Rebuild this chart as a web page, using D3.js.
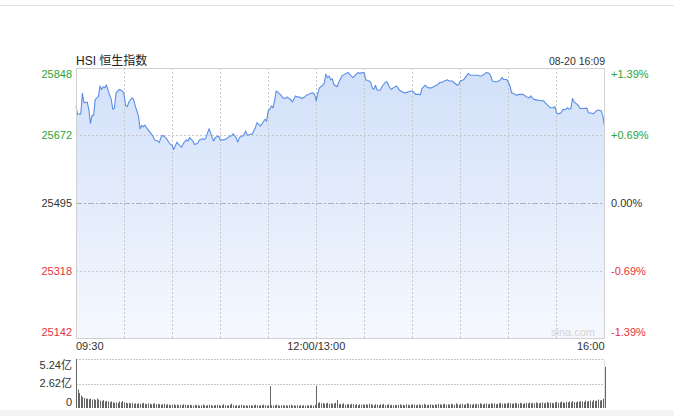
<!DOCTYPE html>
<html>
<head>
<meta charset="utf-8">
<script src="https://cdn.jsdelivr.net/npm/d3@7"></script>
<style>
  body { margin: 0; background: #fff; }
  text { font-family: "Liberation Sans", Arial, "Noto Sans CJK SC", sans-serif; }
</style>
</head>
<body>
<div id="chart"></div>
<script>
// HSI intraday, 08-20 — minutes from 09:30 (lunch break removed)
const title = "HSI 恒生指数";
const stamp = "08-20 16:09";
const prevClose = 25495;
const priceTicks = [25142, 25318, 25495, 25672, 25848];
const pctLabels = ["-1.39%", "-0.69%", "0.00%", "+0.69%", "+1.39%"];
const timeLabels = ["09:30", "12:00/13:00", "16:00"];
const timeLabelMinutes = [0, 150, 330];
const volTicks = [0, 2.62, 5.24];
const volLabels = ["0", "2.62亿", "5.24亿"];

const priceMinutes = [
  0, 1, 3, 4, 5, 7, 8, 9, 10, 11,
  12, 14, 15, 16, 17, 18, 19, 20, 22, 23,
  24, 25, 27, 29, 30, 31, 32, 33, 35, 36,
  37, 39, 40, 41, 42, 43, 44, 46, 48, 49,
  51, 52, 53, 54, 56, 58, 59, 60, 61, 62,
  63, 65, 66, 67, 69, 70, 71, 73, 74, 76,
  77, 79, 80, 81, 83, 84, 85, 86, 87, 89,
  90, 92, 94, 96, 97, 98, 100, 101, 102, 104,
  105, 106, 107, 109, 110, 112, 113, 114, 115, 116,
  118, 119, 120, 121, 122, 123, 124, 125, 126, 128,
  129, 131, 132, 133, 134, 135, 136, 137, 138, 139,
  141, 143, 144, 146, 147, 148, 149, 150, 151, 152,
  154, 155, 156, 157, 158, 159, 160, 161, 163, 164,
  166, 168, 170, 172, 173, 175, 176, 177, 179, 180,
  181, 183, 184, 185, 186, 187, 188, 190, 191, 193,
  194, 195, 196, 197, 198, 200, 201, 202, 204, 205,
  207, 209, 210, 211, 212, 214, 215, 216, 218, 219,
  220, 222, 224, 226, 227, 229, 230, 232, 233, 235,
  236, 238, 239, 240, 242, 243, 245, 246, 248, 251,
  252, 253, 255, 256, 258, 259, 260, 262, 263, 265,
  266, 267, 269, 270, 271, 272, 273, 274, 275, 277,
  279, 280, 281, 283, 284, 285, 286, 288, 290, 292,
  293, 295, 296, 298, 299, 300, 301, 303, 304, 305,
  307, 308, 309, 310, 311, 313, 314, 315, 317, 319,
  320, 322, 323, 325, 326, 328, 329, 330
];
const prices = [
  25749, 25727, 25728, 25782, 25757, 25759, 25740, 25703, 25724, 25724,
  25766, 25773, 25801, 25792, 25799, 25796, 25804, 25790, 25766, 25740,
  25744, 25783, 25792, 25788, 25779, 25750, 25747, 25759, 25770, 25766,
  25749, 25722, 25689, 25698, 25694, 25699, 25692, 25681, 25670, 25660,
  25657, 25653, 25666, 25672, 25666, 25654, 25648, 25646, 25635, 25644,
  25654, 25644, 25641, 25651, 25660, 25657, 25666, 25657, 25648, 25651,
  25660, 25663, 25661, 25664, 25689, 25679, 25666, 25657, 25666, 25670,
  25660, 25660, 25663, 25670, 25670, 25676, 25666, 25654, 25666, 25670,
  25675, 25683, 25672, 25675, 25675, 25692, 25705, 25701, 25696, 25701,
  25714, 25709, 25736, 25740, 25749, 25744, 25762, 25788, 25785, 25777,
  25770, 25769, 25772, 25768, 25766, 25759, 25766, 25775, 25772, 25773,
  25768, 25773, 25777, 25781, 25782, 25783, 25779, 25762, 25783, 25796,
  25803, 25808, 25832, 25823, 25827, 25817, 25820, 25805, 25799, 25810,
  25827, 25832, 25836, 25827, 25823, 25832, 25836, 25834, 25836, 25834,
  25817, 25814, 25811, 25796, 25792, 25803, 25790, 25790, 25799, 25810,
  25812, 25805, 25796, 25792, 25796, 25801, 25796, 25790, 25785, 25783,
  25785, 25788, 25788, 25785, 25779, 25779, 25778, 25794, 25803, 25799,
  25796, 25796, 25801, 25805, 25810, 25811, 25814, 25817, 25814, 25814,
  25810, 25803, 25805, 25814, 25817, 25823, 25834, 25829, 25829, 25829,
  25827, 25827, 25832, 25836, 25834, 25827, 25814, 25812, 25812, 25817,
  25823, 25818, 25818, 25810, 25801, 25783, 25782, 25779, 25777, 25779,
  25779, 25777, 25773, 25770, 25775, 25770, 25766, 25764, 25763, 25762,
  25757, 25749, 25744, 25744, 25747, 25731, 25728, 25731, 25740, 25738,
  25744, 25740, 25742, 25768, 25759, 25753, 25747, 25742, 25742, 25743,
  25731, 25730, 25728, 25736, 25738, 25736, 25722, 25696
];

// volume per minute, in 亿
const volumes = [
  5.24, 1.96, 1.6, 1.32, 1.18, 1.07, 1.0, 1.0, 0.95, 1.0,
  0.9, 0.95, 0.85, 1.0, 0.9, 0.8, 0.75, 0.85, 0.7, 0.75,
  0.7, 0.65, 0.7, 0.6, 0.55, 0.6, 0.55, 0.7, 0.6, 0.75,
  0.6, 0.55, 0.5, 0.55, 0.5, 0.55, 0.45, 0.5, 0.45, 0.5,
  0.45, 0.5, 0.55, 0.45, 0.4, 0.5, 0.45, 0.4, 0.45, 0.5,
  0.4, 0.45, 0.4, 0.35, 0.4, 0.45, 0.35, 0.4, 0.35, 0.3,
  0.35, 0.4, 0.3, 0.35, 0.3, 0.35, 0.3, 0.4, 0.35, 0.3,
  0.3, 0.35, 0.3, 0.25, 0.35, 0.3, 0.3, 0.25, 0.3, 0.35,
  0.3, 0.25, 0.3, 0.35, 0.3, 0.25, 0.3, 0.3, 0.35, 0.3,
  0.25, 0.3, 0.4, 0.3, 0.25, 0.3, 0.35, 0.45, 0.3, 0.25,
  0.3, 0.25, 0.3, 0.35, 0.3, 0.25, 0.3, 0.25, 0.3, 0.3,
  0.25, 0.3, 0.35, 0.3, 0.25, 0.3, 0.3, 0.35, 0.3, 0.25,
  0.3, 2.35, 0.3, 0.25, 0.3, 0.35, 0.3, 0.25, 0.3, 0.3,
  0.25, 0.3, 0.25, 0.3, 0.35, 0.25, 0.3, 0.25, 0.3, 0.25,
  0.3, 0.25, 0.3, 0.25, 0.3, 0.25, 0.3, 0.3, 0.25, 0.35,
  2.38, 0.55, 0.6, 0.5, 0.55, 0.45, 0.5, 0.55, 0.45, 0.5,
  0.45, 0.5, 0.55, 0.85, 0.4, 0.45, 0.4, 0.5, 0.35, 0.4,
  0.4, 0.35, 0.45, 0.4, 0.35, 0.4, 0.3, 0.4, 0.35, 0.4,
  0.35, 0.4, 0.35, 0.45, 0.4, 0.35, 0.3, 0.4, 0.35, 0.3,
  0.4, 0.35, 0.45, 0.3, 0.35, 0.4, 0.3, 0.35, 0.3, 0.35,
  0.3, 0.35, 0.4, 0.3, 0.35, 0.3, 0.4, 0.35, 0.3, 0.35,
  0.4, 0.35, 0.3, 0.35, 0.4, 0.3, 0.35, 0.45, 0.35, 0.3,
  0.35, 0.4, 0.35, 0.3, 0.4, 0.35, 0.45, 0.4, 0.35, 0.4,
  0.45, 0.35, 0.4, 0.35, 0.45, 0.4, 0.35, 0.5, 0.4, 0.35,
  0.4, 0.45, 0.35, 0.4, 0.5, 0.45, 0.4, 0.35, 0.45, 0.4,
  0.45, 0.4, 0.5, 0.45, 0.4, 0.45, 0.5, 0.4, 0.45, 0.5,
  0.45, 0.5, 0.4, 0.45, 0.5, 0.55, 0.45, 0.5, 0.45, 0.5,
  0.55, 0.5, 0.45, 0.5, 0.55, 0.5, 0.45, 0.55, 0.5, 0.45,
  0.5, 0.55, 0.5, 0.6, 0.5, 0.55, 0.5, 0.6, 0.55, 0.5,
  0.55, 0.6, 0.5, 0.55, 0.65, 0.55, 0.6, 0.55, 0.5, 0.6,
  0.65, 0.55, 0.6, 0.7, 0.6, 0.55, 0.65, 0.6, 0.7, 0.6,
  0.75, 0.65, 0.6, 0.7, 0.65, 0.75, 0.7, 0.65, 0.8, 0.7,
  0.75, 0.8, 0.7, 0.85, 0.75, 0.8, 0.9, 0.8, 0.85, 1.0,
  4.4
];

var W = 674, H = 416;
var pLeft = 76, pRight = 605, pTop = 68, pBottom = 338;
var vTop = 359, vBottom = 408;

var svg = d3.select('#chart').append('svg').attr('width', W).attr('height', H);

// page chrome
svg.append('line').attr('x1', 0).attr('x2', W).attr('y1', 5.5).attr('y2', 5.5)
  .attr('stroke', '#e2e2e2');
svg.append('rect').attr('x', 0).attr('y', 410).attr('width', W).attr('height', 6)
  .attr('fill', '#f4f4f4');

var x = d3.scaleLinear().domain([0, 330]).range([pLeft, pRight - 0.5]);
var y = d3.scaleLinear().domain([priceTicks[0], priceTicks[4]]).range([pBottom, pTop]);
var yv = d3.scaleLinear().domain([0, volTicks[2]]).range([vBottom, vTop]);

var data = priceMinutes.map(function (m, i) { return { m: m, p: prices[i] }; });

// gradient fill
var grad = svg.append('defs').append('linearGradient').attr('id', 'fill')
  .attr('gradientUnits', 'userSpaceOnUse')
  .attr('x1', 0).attr('x2', 0).attr('y1', pTop).attr('y2', pBottom);
grad.append('stop').attr('offset', '0%').attr('stop-color', '#d1e0f9');
grad.append('stop').attr('offset', '100%').attr('stop-color', '#f5f8fe');

svg.append('path').datum(data)
  .attr('fill', 'url(#fill)')
  .attr('d', d3.area().x(d => x(d.m)).y0(pBottom).y1(d => y(d.p)));

// grid
var vMinutes = d3.range(30, 330, 30);
svg.append('g').selectAll('line').data(vMinutes).join('line')
  .attr('x1', d => Math.round(x(d)) + 0.5).attr('x2', d => Math.round(x(d)) + 0.5)
  .attr('y1', pTop).attr('y2', pBottom)
  .attr('stroke', '#c8c8c8').attr('stroke-dasharray', '2,2');
svg.append('g').selectAll('line').data([priceTicks[1], priceTicks[3]]).join('line')
  .attr('x1', pLeft).attr('x2', pRight)
  .attr('y1', d => Math.round(y(d)) + 0.5).attr('y2', d => Math.round(y(d)) + 0.5)
  .attr('stroke', '#c8c8c8').attr('stroke-dasharray', '2,2');
svg.append('line')
  .attr('x1', pLeft).attr('x2', pRight)
  .attr('y1', Math.round(y(prevClose)) + 0.5).attr('y2', Math.round(y(prevClose)) + 0.5)
  .attr('stroke', '#aab0b8').attr('stroke-dasharray', '6,2,2,2');

// price line
svg.append('path').datum(data)
  .attr('fill', 'none').attr('stroke', '#5a8ee6').attr('stroke-width', 1.1)
  .attr('stroke-linejoin', 'round')
  .attr('d', d3.line().x(d => x(d.m)).y(d => y(d.p)));

// frame
svg.append('rect').attr('x', pLeft + 0.5).attr('y', pTop + 0.5)
  .attr('width', pRight - pLeft - 1).attr('height', pBottom - pTop)
  .attr('fill', 'none').attr('stroke', '#d0d0d0');

function tickColor(v) {
  if (v > prevClose) return '#2aa33a';
  if (v < prevClose) return '#e8323c';
  return '#333';
}
function clampY(v) { return Math.max(pTop + 6, Math.min(pBottom - 6, y(v))); }

svg.append('g').selectAll('text').data(priceTicks).join('text')
  .attr('x', pLeft - 4).attr('y', d => clampY(d)).attr('dy', '0.35em')
  .attr('text-anchor', 'end').attr('font-size', 11)
  .attr('fill', d => tickColor(d)).text(d => d);
svg.append('g').selectAll('text').data(priceTicks).join('text')
  .attr('x', pRight + 6).attr('y', d => clampY(d)).attr('dy', '0.35em')
  .attr('font-size', 11)
  .attr('fill', d => tickColor(d)).text((d, i) => pctLabels[i]);

// title / stamp
svg.append('text').attr('x', pLeft).attr('y', 65).attr('font-size', 12)
  .attr('fill', '#222').text(title);
svg.append('text').attr('x', pRight).attr('y', 65).attr('font-size', 10.5)
  .attr('text-anchor', 'end').attr('fill', '#333').text(stamp);

// watermark
svg.append('text').attr('x', 595).attr('y', 336).attr('font-size', 11)
  .attr('text-anchor', 'end').attr('fill', '#d4d4d4').text('sina.com');

// time labels
svg.append('g').selectAll('text').data(timeLabels).join('text')
  .attr('x', (d, i) => x(timeLabelMinutes[i])).attr('y', 350)
  .attr('font-size', 11).attr('fill', '#333')
  .attr('text-anchor', (d, i) => i === 0 ? 'start' : (i === 2 ? 'end' : 'middle'))
  .text(d => d);

// volume panel
svg.append('g').selectAll('line').data([volTicks[1], volTicks[2]]).join('line')
  .attr('x1', pLeft).attr('x2', pRight)
  .attr('y1', d => Math.round(yv(d)) + 0.5).attr('y2', d => Math.round(yv(d)) + 0.5)
  .attr('stroke', '#c8c8c8').attr('stroke-dasharray', '2,1');
svg.append('line').attr('x1', pLeft + 0.5).attr('x2', pLeft + 0.5)
  .attr('y1', vTop).attr('y2', vBottom).attr('stroke', '#bbb');
svg.append('line').attr('x1', pRight - 0.5).attr('x2', pRight - 0.5)
  .attr('y1', vTop).attr('y2', vBottom).attr('stroke', '#e0e0e0');

svg.append('g').selectAll('rect').data(volumes).join('rect')
  .attr('x', (d, i) => Math.round(x(i)))
  .attr('y', d => yv(d))
  .attr('width', 1)
  .attr('height', d => vBottom - yv(d))
  .attr('fill', '#666');

function clampV(v) { return Math.max(vTop + 6, Math.min(vBottom - 6, yv(v))); }
svg.append('g').selectAll('text').data(volTicks).join('text')
  .attr('x', pLeft - 4).attr('y', d => clampV(d)).attr('dy', '0.35em')
  .attr('text-anchor', 'end').attr('font-size', 11).attr('fill', '#333')
  .text((d, i) => volLabels[i]);
</script>
</body>
</html>
